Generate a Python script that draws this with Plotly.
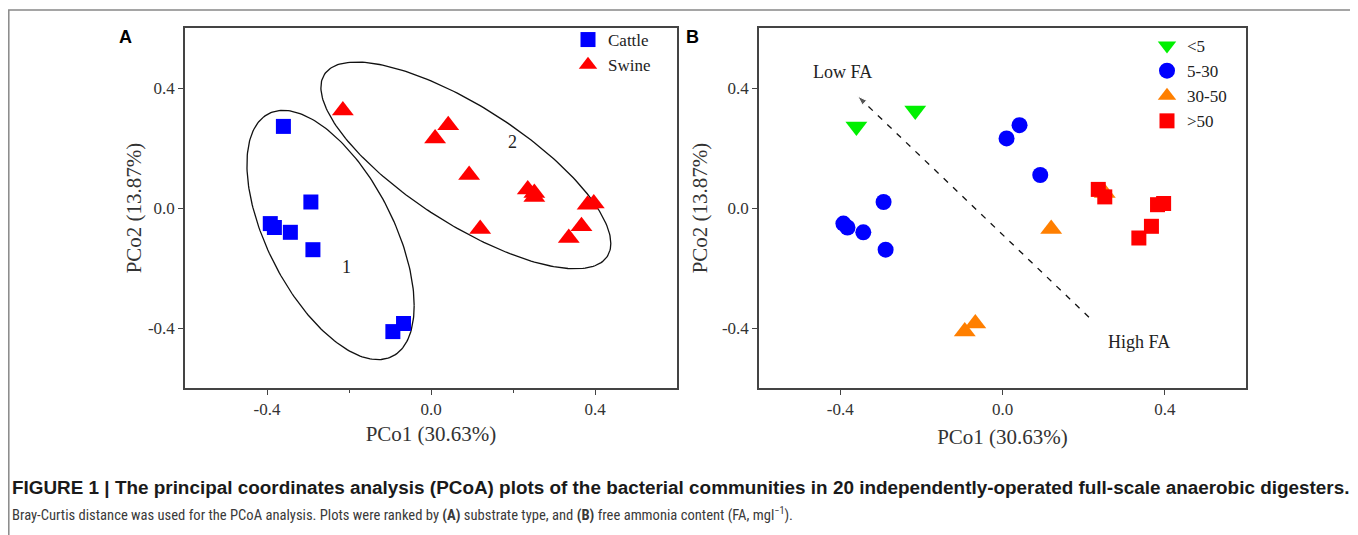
import numpy as np
import plotly.graph_objects as go

# ---------------- data ----------------
pco1 = [-0.360, -0.215, -0.293, -0.392, -0.382, -0.343, -0.288, -0.093, -0.067,
        0.010, 0.042, 0.093, 0.252, 0.236, 0.252, 0.382, 0.397, 0.367, 0.336, 0.120]
pco2 = [0.272, 0.325, 0.020, -0.052, -0.065, -0.081, -0.139, -0.412, -0.385,
        0.232, 0.276, 0.110, 0.050, 0.062, 0.037, 0.011, 0.015, -0.061, -0.100, -0.070]
substrate = ["Cattle", "Swine", "Cattle", "Cattle", "Cattle", "Cattle", "Cattle", "Cattle", "Cattle",
             "Swine", "Swine", "Swine", "Swine", "Swine", "Swine", "Swine", "Swine", "Swine", "Swine", "Swine"]
fa_group = ["<5", "<5", "5-30", "5-30", "5-30", "5-30", "5-30", "30-50", "30-50",
            "5-30", "5-30", "5-30", "30-50", ">50", ">50", ">50", ">50", ">50", ">50", "30-50"]

substrate_order = ["Cattle", "Swine"]
fa_order = ["<5", "5-30", "30-50", ">50"]

tick_vals = [-0.4, 0.0, 0.4]
tick_text = ["-0.4", "0.0", "0.4"]
x_title = "PCo1 (30.63%)"
y_title = "PCo2 (13.87%)"

# cluster ellipses (centre, covariance-like shape) in data units
ellipse_1 = dict(cx=-0.245, cy=-0.090, sxx=0.0416, syy=0.1726, sxy=-0.048)
ellipse_2 = dict(cx=0.085, cy=0.142, sxx=0.125, syy=0.1187, sxy=-0.092)
cluster_labels = [("1", -0.205, -0.197), ("2", 0.198, 0.220)]

arrow_start = (0.213, -0.364)
arrow_end = (-0.357, 0.373)

# ---------------- styles ----------------
OFF = 8                     # page body margin
W, H = 1358 - OFF, 535 - OFF
SERIF = "Liberation Serif, Times New Roman, serif"
SANS = "Liberation Sans, Arial, sans-serif"
COND = "Roboto Condensed, Liberation Sans Narrow, Arial Narrow, Liberation Sans, sans-serif"
sub_style = {"Cattle": dict(symbol="square", color="#0000FF", size=15),
             "Swine": dict(symbol="triangle-up", color="#FF0000", size=19)}
fa_style = {"<5": dict(symbol="triangle-down", color="#00F000", size=19),
            "5-30": dict(symbol="circle", color="#0000FF", size=16),
            "30-50": dict(symbol="triangle-up", color="#FF7F00", size=19),
            ">50": dict(symbol="square", color="#FF0000", size=15)}


def px_x(p):
    return (p - OFF) / W


def px_y(p):
    return 1 - (p - OFF) / H


def ellipse_xy(e, n=240):
    t = np.linspace(0, 2 * np.pi, n)
    a = np.sqrt(e["sxx"])
    c = e["sxy"] / a
    d = np.sqrt(e["syy"] - c * c)
    return e["cx"] + a * np.cos(t), e["cy"] + c * np.cos(t) + d * np.sin(t)


fig = go.Figure()

pco1_a = np.array(pco1)
pco2_a = np.array(pco2)
sub_a = np.array(substrate)
fa_a = np.array(fa_group)

# Panel A
for e in (ellipse_1, ellipse_2):
    ex, ey = ellipse_xy(e)
    fig.add_trace(go.Scatter(x=ex, y=ey, mode="lines", line=dict(color="#111111", width=1.3),
                             showlegend=False, hoverinfo="skip", xaxis="x", yaxis="y"))
for g in substrate_order:
    m = sub_a == g
    st = sub_style[g]
    fig.add_trace(go.Scatter(x=pco1_a[m], y=pco2_a[m], mode="markers", name=g,
                             marker=dict(symbol=st["symbol"], color=st["color"], size=st["size"],
                                         line=dict(width=0)),
                             xaxis="x", yaxis="y", legend="legend"))

# Panel B
fig.add_trace(go.Scatter(x=[arrow_start[0], arrow_end[0]], y=[arrow_start[1], arrow_end[1]],
                         mode="lines+markers", line=dict(color="#111111", width=1.3, dash="6px,7px"),
                         marker=dict(symbol="arrow", size=[0, 10], angleref="previous", color="#111111"),
                         showlegend=False, hoverinfo="skip", xaxis="x2", yaxis="y2"))
for g in fa_order:
    m = fa_a == g
    st = fa_style[g]
    fig.add_trace(go.Scatter(x=pco1_a[m], y=pco2_a[m], mode="markers", name=g,
                             marker=dict(symbol=st["symbol"], color=st["color"], size=st["size"],
                                         line=dict(width=0)),
                             xaxis="x2", yaxis="y2", legend="legend2"))

axis_common = dict(range=[-0.6, 0.6], showgrid=False, zeroline=False, showline=True, mirror=True,
                   linecolor="#444444", linewidth=1.5, ticks="outside", ticklen=5, tickwidth=1.3,
                   tickcolor="#444444", tickvals=tick_vals, ticktext=tick_text,
                   tickfont=dict(family=SERIF, size=17, color="#333333"), automargin=False)
title_font = dict(family=SERIF, size=21, color="#333333")

y_dom = [px_y(388), px_y(28)]
fig.update_layout(
    width=W, height=H, margin=dict(l=0, r=0, t=0, b=0),
    paper_bgcolor="white", plot_bgcolor="white",
    xaxis=dict(axis_common, domain=[px_x(185), px_x(677)], anchor="y",
               minor=dict(tickvals=[-0.2, 0.2], ticks="outside", ticklen=3, tickcolor="#444444"),
               title=dict(text=x_title, font=title_font, standoff=8)),
    yaxis=dict(axis_common, domain=y_dom, anchor="x",
               title=dict(text=y_title, font=title_font, standoff=1)),
    xaxis2=dict(axis_common, domain=[px_x(759), px_x(1246)], anchor="y2",
                title=dict(text=x_title, font=title_font, standoff=11)),
    yaxis2=dict(axis_common, domain=y_dom, anchor="x2",
                title=dict(text=y_title, font=title_font, standoff=9)),
    legend=dict(x=px_x(568), y=px_y(22), xanchor="left", yanchor="top", bgcolor="rgba(0,0,0,0)",
                font=dict(family=SERIF, size=17, color="#222222"), tracegroupgap=0, itemwidth=30),
    legend2=dict(x=px_x(1147), y=px_y(28), xanchor="left", yanchor="top", bgcolor="rgba(0,0,0,0)",
                 font=dict(family=SERIF, size=17, color="#222222"), tracegroupgap=0, itemwidth=30),
    showlegend=True,
)

annotations = [
    dict(text="<b>A</b>", x=px_x(125), y=px_y(37), xref="paper", yref="paper", showarrow=False,
         xanchor="center", yanchor="middle", font=dict(family=SANS, size=18, color="black")),
    dict(text="<b>B</b>", x=px_x(692), y=px_y(37), xref="paper", yref="paper", showarrow=False,
         xanchor="center", yanchor="middle", font=dict(family=SANS, size=18, color="black")),
    dict(text="Low FA", x=-0.395, y=0.455, xref="x2", yref="y2", showarrow=False,
         font=dict(family=SERIF, size=18, color="#222222")),
    dict(text="High FA", x=0.336, y=-0.445, xref="x2", yref="y2", showarrow=False,
         font=dict(family=SERIF, size=18, color="#222222")),
    dict(text="<b>FIGURE 1 | The principal coordinates analysis (PCoA) plots of the bacterial communities "
              "in 20 independently-operated full-scale anaerobic digesters.</b>",
         x=px_x(10), y=px_y(487), xref="paper", yref="paper", xanchor="left", yanchor="middle",
         showarrow=False, font=dict(family=SANS, size=18.9, color="#1a1a1a")),
    dict(text="Bray-Curtis distance was used for the PCoA analysis. Plots were ranked by <b>(A)</b> substrate "
              "type, and <b>(B)</b> free ammonia content (FA, mgl<sup>−1</sup>).",
         x=px_x(10), y=px_y(514), xref="paper", yref="paper", xanchor="left", yanchor="middle",
         showarrow=False, font=dict(family=COND, size=14.6, color="#3a3a3a")),
]
for txt, lx, ly in cluster_labels:
    annotations.append(dict(text=txt, x=lx, y=ly, xref="x", yref="y", showarrow=False,
                            font=dict(family=SERIF, size=18, color="#222222")))
fig.update_layout(annotations=annotations)

fig.add_shape(type="rect", xref="paper", yref="paper", x0=px_x(8.8), x1=px_x(1356), y0=px_y(560), y1=px_y(10),
              line=dict(color="#888888", width=1.5), fillcolor="rgba(0,0,0,0)", layer="below")

fig.write_html("out.html")
